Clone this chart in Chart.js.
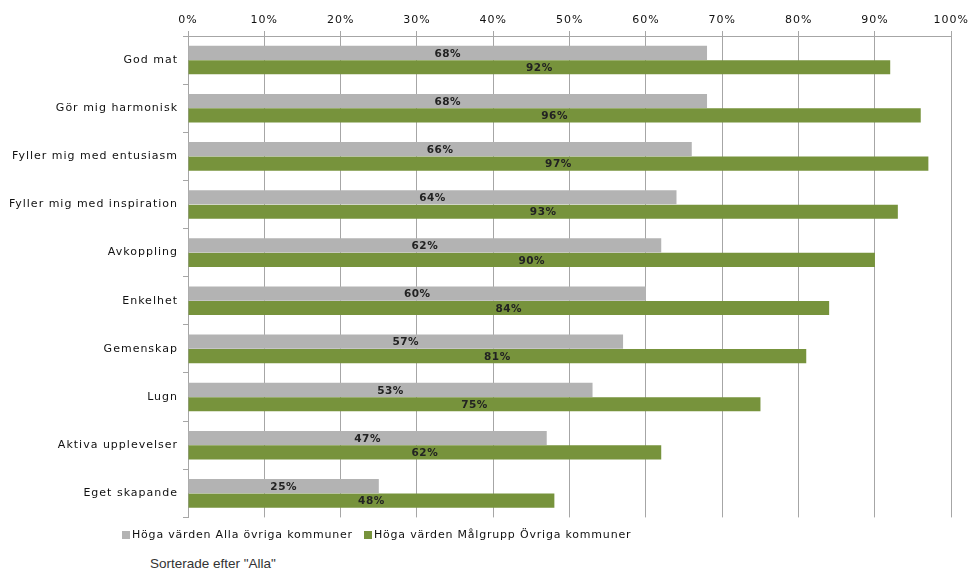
<!DOCTYPE html>
<html>
<head>
<meta charset="utf-8">
<script src="https://cdn.jsdelivr.net/npm/chart.js@4"></script>
<style>
  body { margin: 0; background: #fff; font-family: "DejaVu Sans", sans-serif; }
  #wrap { position: relative; width: 971px; height: 574px; }
  #chart-box { position: absolute; left: 0; top: 0; width: 971px; height: 529px; }
  #legend { position: absolute; left: 122px; top: 528px; font-size: 11px; letter-spacing: 0.8px; color: #111; display: flex; }
  #legend .item { display: flex; align-items: center; margin-right: 11px; }
  #legend .box { width: 8px; height: 8px; margin-right: 2px; }
  #note { position: absolute; left: 150px; top: 556px; font-family: "Liberation Sans", Arial, sans-serif; font-size: 13.5px; color: #333; }
</style>
</head>
<body>
<div id="wrap">
  <div id="chart-box"><canvas id="bar-chart"></canvas></div>
  <div id="legend"></div>
  <div id="note">Sorterade efter "Alla"</div>
</div>
<script>
const categories = ['God mat', 'Gör mig harmonisk', 'Fyller mig med entusiasm', 'Fyller mig med inspiration',
  'Avkoppling', 'Enkelhet', 'Gemenskap', 'Lugn', 'Aktiva upplevelser', 'Eget skapande'];
const allaValues = [68, 68, 66, 64, 62, 60, 57, 53, 47, 25];
const malgruppValues = [92, 96, 97, 93, 90, 84, 81, 75, 62, 48];
const seriesNames = ['Höga värden Alla övriga kommuner', 'Höga värden Målgrupp Övriga kommuner'];
const seriesColors = ['#b3b3b3', '#77933c'];

// spaced-out text like the original export
const spacing = {
  id: 'spacing',
  beforeDraw(chart) { chart.ctx.letterSpacing = '1px'; }
};

// draws the value in the middle of each bar
const centerLabels = {
  id: 'centerLabels',
  afterDatasetsDraw(chart) {
    const ctx = chart.ctx;
    ctx.save();
    ctx.letterSpacing = '0.5px';
    ctx.font = 'bold 10.5px "DejaVu Sans", sans-serif';
    ctx.fillStyle = '#222';
    ctx.textAlign = 'center';
    ctx.textBaseline = 'middle';
    chart.data.datasets.forEach((ds, i) => {
      chart.getDatasetMeta(i).data.forEach((bar, j) => {
        ctx.fillText(ds.data[j] + '%', (bar.base + bar.x) / 2, bar.y + 1);
      });
    });
    ctx.restore();
  }
};

const ctx = document.getElementById('bar-chart').getContext('2d');
const chart = new Chart(ctx, {
  type: 'bar',
  data: {
    labels: categories,
    datasets: [
      { label: seriesNames[0], data: allaValues, backgroundColor: seriesColors[0] },
      { label: seriesNames[1], data: malgruppValues, backgroundColor: seriesColors[1] }
    ]
  },
  options: {
    indexAxis: 'y',
    responsive: true,
    maintainAspectRatio: false,
    animation: false,
    layout: { padding: { left: 0, right: 17, top: 0, bottom: 4 } },
    datasets: { bar: { categoryPercentage: 0.6, barPercentage: 0.98 } },
    scales: {
      x: {
        position: 'top',
        min: 0,
        max: 100,
        ticks: {
          stepSize: 10,
          callback: v => v + '%',
          color: '#111',
          font: { family: '"DejaVu Sans", sans-serif', size: 11 },
          padding: 4
        },
        grid: { color: '#a6a6a6', tickLength: 5 },
        border: { color: '#a6a6a6' },
        afterFit: s => { s.height = 36; }
      },
      y: {
        ticks: {
          color: '#111',
          font: { family: '"DejaVu Sans", sans-serif', size: 11 },
          padding: 5
        },
        grid: { drawOnChartArea: false, color: '#a6a6a6', tickLength: 5 },
        border: { color: '#a6a6a6' },
        afterFit: s => { s.width = 188; }
      }
    },
    plugins: {
      legend: { display: false },
      tooltip: { enabled: false }
    }
  },
  plugins: [spacing, centerLabels]
});

// html legend under the chart
const legend = document.getElementById('legend');
chart.data.datasets.forEach(ds => {
  const item = document.createElement('div');
  item.className = 'item';
  item.innerHTML = `<span class="box" style="background:${ds.backgroundColor}"></span>${ds.label}`;
  legend.appendChild(item);
});
</script>
</body>
</html>
